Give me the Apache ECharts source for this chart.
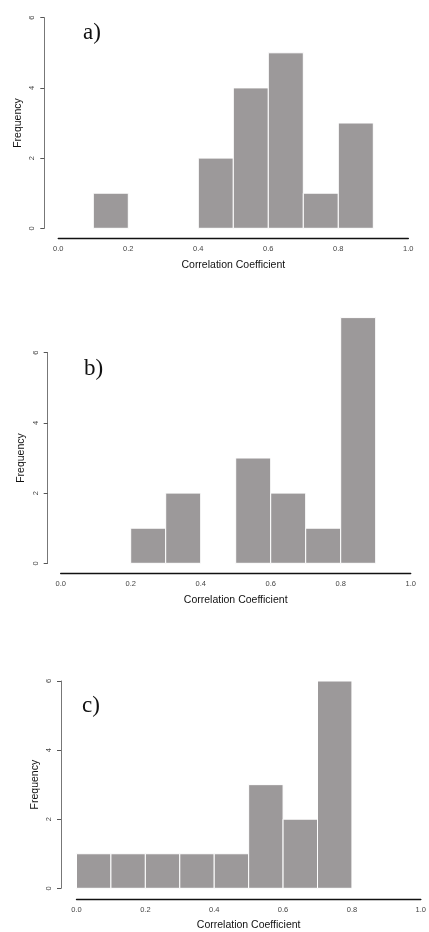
<!DOCTYPE html>
<html>
<head>
<meta charset="utf-8">
<script src="https://cdn.jsdelivr.net/npm/echarts@6/dist/echarts.min.js"></script>
<style>
html,body{margin:0;padding:0;background:#fff;}
#main{width:429px;height:932px;}
</style>
</head>
<body>
<div id="main"></div>
<script>
// Histogram bins (start, end) and counts for each panel
const binStartsA = [0.1, 0.4, 0.5, 0.6, 0.7, 0.8];
const binEndsA   = [0.2, 0.5, 0.6, 0.7, 0.8, 0.9];
const countsA    = [1, 2, 4, 5, 1, 3];

const binStartsB = [0.2, 0.3, 0.5, 0.6, 0.7, 0.8];
const binEndsB   = [0.3, 0.4, 0.6, 0.7, 0.8, 0.9];
const countsB    = [1, 2, 3, 2, 1, 7];

const binStartsC = [0.0, 0.1, 0.2, 0.3, 0.4, 0.5, 0.6, 0.7];
const binEndsC   = [0.1, 0.2, 0.3, 0.4, 0.5, 0.6, 0.7, 0.8];
const countsC    = [1, 1, 1, 1, 1, 3, 2, 6];

const xTickValues = [0.0, 0.2, 0.4, 0.6, 0.8, 1.0];
const yTickValues = [0, 2, 4, 6];
const panelLabels = ['a)', 'b)', 'c)'];
const xTitle = 'Correlation Coefficient';
const yTitle = 'Frequency';

const panels = [
  {starts: binStartsA, ends: binEndsA, counts: countsA},
  {starts: binStartsB, ends: binEndsB, counts: countsB},
  {starts: binStartsC, ends: binEndsC, counts: countsC}
];

// layout (pixels)
const layouts = [
  {left: 58.3, top: 17.7, width: 350, height: 210.6, xOff: 10, yOff: 14, nameGapY: 21, lx: 83, ly: 21},
  {left: 60.7, top: 352.7, width: 350, height: 210.6, xOff: 10, yOff: 13, nameGapY: 21.5, lx: 84, ly: 357},
  {left: 76.5, top: 681, width: 347, height: 210, xOff: 10.7, yOff: 15.5, nameGapY: 20, lx: 82, ly: 694}
];

const chart = echarts.init(document.getElementById('main'), null, {renderer: 'canvas'});

const grids = [], xAxes = [], yAxes = [], series = [], titles = [];
const barColor = '#9c999a';

panels.forEach((p, i) => {
  const L = layouts[i];
  grids.push({left: L.left, top: L.top, width: L.width, height: L.height, containLabel: false});
  xAxes.push({
    type: 'value', gridIndex: i, min: 0, max: 1, interval: 0.2,
    offset: L.xOff,
    axisLine: {show: true, onZero: false, lineStyle: {color: '#111', width: 1.4}},
    axisTick: {show: false},
    splitLine: {show: false},
    axisLabel: {
      color: '#444', fontSize: 7.5, fontFamily: 'Liberation Sans, Arial, sans-serif', margin: 7,
      formatter: v => xTickValues.some(t => Math.abs(t - v) < 1e-9) ? v.toFixed(1) : ''
    },
    name: xTitle, nameLocation: 'middle', nameGap: 21, nameMoveOverlap: false,
    nameTextStyle: {color: '#111', fontSize: 10.5, fontFamily: 'Liberation Sans, Arial, sans-serif'}
  });
  yAxes.push({
    type: 'value', gridIndex: i, min: 0, max: 6, interval: 2,
    offset: L.yOff,
    axisLine: {show: true, onZero: false, lineStyle: {color: '#777', width: 1}},
    axisTick: {show: true, length: 4, lineStyle: {color: '#555'}},
    splitLine: {show: false},
    axisLabel: {
      color: '#444', fontSize: 7.5, fontFamily: 'Liberation Sans, Arial, sans-serif', rotate: 90, margin: 8,
      formatter: v => yTickValues.includes(v) ? String(v) : ''
    },
    name: yTitle, nameLocation: 'middle', nameRotate: 90, nameGap: L.nameGapY, nameMoveOverlap: false,
    nameTextStyle: {color: '#111', fontSize: 10.5, fontFamily: 'Liberation Sans, Arial, sans-serif'}
  });
  const data = p.counts.map((c, k) => [p.starts[k], p.ends[k], c]);
  series.push({
    type: 'custom', xAxisIndex: i, yAxisIndex: i, clip: false,
    data: data,
    encode: {x: [0, 1], y: 2},
    renderItem: function (params, api) {
      const p0 = api.coord([api.value(0), 0]);
      const p1 = api.coord([api.value(1), api.value(2)]);
      return {
        type: 'rect',
        shape: {x: p0[0], y: p1[1], width: p1[0] - p0[0], height: p0[1] - p1[1]},
        style: {fill: barColor, stroke: '#fff', lineWidth: 1}
      };
    }
  });
  titles.push({
    text: panelLabels[i], left: L.lx, top: L.ly, padding: 0,
    textStyle: {fontFamily: 'Liberation Serif, Times New Roman, serif', fontWeight: 'normal', fontSize: 23, color: '#111'}
  });
});

chart.setOption({
  animation: false,
  backgroundColor: '#fff',
  title: titles,
  grid: grids,
  xAxis: xAxes,
  yAxis: yAxes,
  series: series
});
</script>
</body>
</html>
